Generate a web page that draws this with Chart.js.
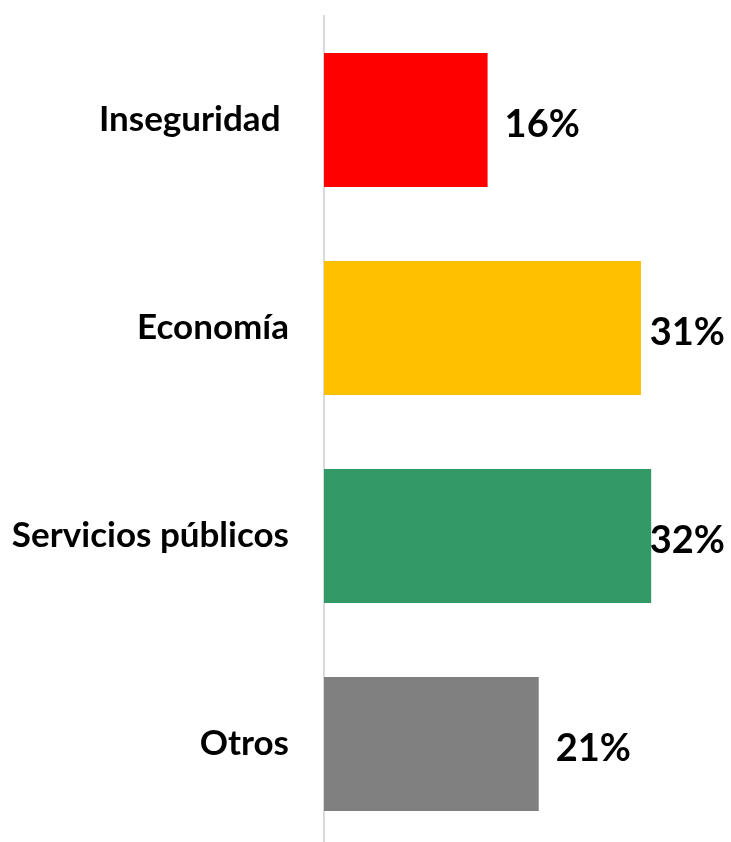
<!DOCTYPE html>
<html>
<head>
<meta charset="utf-8">
<script src="https://cdn.jsdelivr.net/npm/chart.js@4"></script>
<style>
  html, body { margin: 0; padding: 0; background: #fff; overflow: hidden; }
  canvas { display: block; }
</style>
</head>
<body>
<canvas id="chart" width="733" height="848"></canvas>
<script>
"use strict";

const CATEGORIES = ["Inseguridad ", "Economía", "Servicios públicos", "Otros"];
const VALUES = [16, 31, 32, 21];
const COLORS = ["#ff0000", "#ffc000", "#339966", "#808080"];
const X_MAX = 40;

const FONT = "Lato, 'Open Sans', sans-serif";

// etiquetas de valor: fuera del extremo de la barra, sin salirse del lienzo
const valueLabels = {
  id: "valueLabels",
  afterDatasetsDraw(c) {
    const ctx = c.ctx;
    const meta = c.getDatasetMeta(0);
    ctx.save();
    ctx.font = `bold 38px ${FONT}`;
    ctx.fillStyle = "#000";
    ctx.textBaseline = "middle";
    ctx.textAlign = "left";
    meta.data.forEach((bar, i) => {
      const txt = VALUES[i] + "%";
      const w = ctx.measureText(txt).width;
      const x = Math.min(bar.x + 17, 725 - w);
      ctx.fillText(txt, x, bar.y + 5);
    });
    ctx.restore();
  },
};

new Chart(document.getElementById("chart"), {
  type: "bar",
  data: {
    labels: CATEGORIES,
    datasets: [{
      data: VALUES,
      backgroundColor: COLORS,
      barPercentage: 0.645,
      categoryPercentage: 1,
    }],
  },
  options: {
    indexAxis: "y",
    responsive: false,
    animation: false,
    layout: { padding: { top: 16, right: 0, bottom: 0, left: 0 } },
    plugins: { legend: { display: false }, tooltip: { enabled: false } },
    scales: {
      x: { display: false, min: 0, max: X_MAX },
      y: {
        afterFit: (s) => { s.width = 324; s.paddingTop = 0; s.paddingBottom = 0; },
        grid: { display: false, drawTicks: false },
        border: { color: "#d9d9d9", width: 2 },
        ticks: { color: "#000", padding: 35, font: { family: FONT, size: 35, weight: "bold" } },
      },
    },
  },
  plugins: [valueLabels],
});
</script>
</body>
</html>
